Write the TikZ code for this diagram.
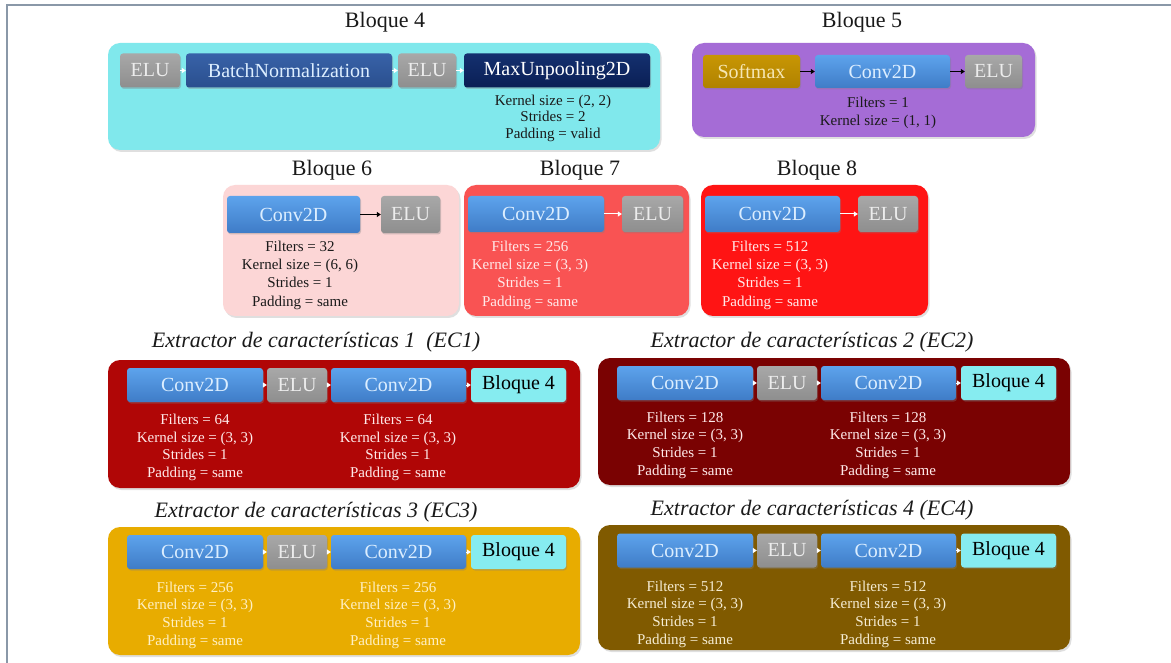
\documentclass[tikz,border=0pt]{standalone}
\usepackage{fontspec}
\setmainfont{Liberation Serif}
\usetikzlibrary{shadows,arrows.meta}

\definecolor{framec}{HTML}{8A98A8}
\definecolor{titlec}{HTML}{1A1A1A}
\definecolor{cyanp}{HTML}{80E8EC}
\definecolor{cyanbox}{HTML}{86ECF0}
\definecolor{purplep}{HTML}{A56CD6}
\definecolor{pinkp}{HTML}{FCD6D6}
\definecolor{salmonp}{HTML}{F95353}
\definecolor{redp}{HTML}{FF1414}
\definecolor{econe}{HTML}{B00606}
\definecolor{ectwo}{HTML}{7A0202}
\definecolor{ecthree}{HTML}{E8AC00}
\definecolor{ecfour}{HTML}{805A00}
\definecolor{convA}{HTML}{5DA3EC}
\definecolor{convB}{HTML}{3F7CC7}
\definecolor{convT}{HTML}{DCEEFF}
\definecolor{eluA}{HTML}{A8A8A8}
\definecolor{eluB}{HTML}{8E8E8E}
\definecolor{eluT}{HTML}{ECECEC}
\definecolor{bnA}{HTML}{3862A8}
\definecolor{bnB}{HTML}{2A4F8E}
\definecolor{muA}{HTML}{14306F}
\definecolor{muB}{HTML}{0A1F55}
\definecolor{smA}{HTML}{C89604}
\definecolor{smB}{HTML}{B08200}
\definecolor{smT}{HTML}{F6E7B4}
\definecolor{lightT}{HTML}{FFEAEA}
\definecolor{goldT}{HTML}{FFF0C4}
\definecolor{oliveT}{HTML}{F6EDD4}

\tikzset{
  blk/.style={rounded corners=3pt, inner sep=0pt, minimum height=34pt,
    font=\fontsize{20}{22}\selectfont,
    drop shadow={opacity=0.35, shadow xshift=1pt, shadow yshift=-1.5pt}},
  conv/.style={blk, top color=convA, bottom color=convB, text=convT},
  elu/.style={blk, top color=eluA, bottom color=eluB, text=eluT},
  bnorm/.style={blk, top color=bnA, bottom color=bnB, text=convT},
  unpool/.style={blk, top color=muA, bottom color=muB, text=white},
  smax/.style={blk, top color=smA, bottom color=smB, text=smT},
  minib/.style={blk, fill=cyanbox, text=black},
  panel/.style={rounded corners=12pt, inner sep=0pt,
    drop shadow={opacity=0.25, shadow xshift=1.5pt, shadow yshift=-2pt}},
  info/.style={align=center, inner sep=0pt, font=\fontsize{15}{17.7}\selectfont},
  ttl/.style={inner sep=0pt, text=titlec, font=\fontsize{22}{26}\selectfont},
  ectl/.style={inner sep=0pt, text=titlec, font=\fontsize{22}{26}\selectfont\itshape},
  warr/.style={white, line width=1pt, -{Triangle[width=5pt,length=4pt]}},
  barr/.style={black, line width=1pt, -{Triangle[width=5pt,length=4pt]}},
}

% One feature-extractor panel:
% #1 name, #2 left x, #3 top y, #4 bottom y, #5 box row y,
% #6 parameter text y, #7 panel fill, #8 text colour, #9 filters
\newcommand\ecpanel[9]{%
  \node[panel, fill=#7, minimum width=472pt, minimum height={#4-#3}]
    (#1) at ({#2+236}, {(#3+#4)/2}) {};
  \node[conv, minimum width=136pt] (#1-c1) at ({#2+87}, #5) {Conv2D};
  \node[elu,  minimum width=60pt]  (#1-e)  at ({#2+189}, #5) {ELU};
  \node[conv, minimum width=135pt] (#1-c2) at ({#2+290.5}, #5) {Conv2D};
  \node[minib, minimum width=95pt] (#1-b)  at ({#2+410.5}, #5) {Bloque 4};
  \draw[warr] (#1-c1.east) -- (#1-e.west);
  \draw[warr] (#1-e.east) -- (#1-c2.west);
  \draw[warr] (#1-c2.east) -- (#1-b.west);
  \node[info, text=#8] (#1-p1) at ({#2+87}, #6)
    {Filters = #9\\Kernel size = (3, 3)\\Strides = 1\\Padding = same};
  \node[info, text=#8] (#1-p2) at ({#2+290}, #6)
    {Filters = #9\\Kernel size = (3, 3)\\Strides = 1\\Padding = same};
}

\begin{document}
\begin{tikzpicture}[x=1pt, y=-1pt]
  \useasboundingbox (0,0) rectangle (1171,663);
  \fill[white] (0,0) rectangle (1171,663);
  \draw[framec, line width=2pt] (7,663) -- (7,5) -- (1171,5);

  % ---- Bloque 4 ----
  \node[ttl] (t4) at (385,22) {Bloque 4};
  \node[panel, fill=cyanp, minimum width=552pt, minimum height=107pt] (b4) at (384,96.5) {};
  \node[elu, minimum width=60pt] (b4e1) at (150,70.5) {ELU};
  \node[bnorm, minimum width=206pt] (b4bn) at (289,70.5) {BatchNormalization};
  \node[elu, minimum width=58pt] (b4e2) at (427,70.5) {ELU};
  \node[unpool, minimum width=186pt] (b4mu) at (557,70.5) {MaxUnpooling2D};
  \draw[warr] (b4e1.east) -- (b4bn.west);
  \draw[warr] (b4bn.east) -- (b4e2.west);
  \draw[warr] (b4e2.east) -- (b4mu.west);
  \node[info, text=titlec, font=\fontsize{15}{16.5}\selectfont] (b4p) at (553,118)
    {Kernel size = (2, 2)\\Strides = 2\\Padding = valid};

  % ---- Bloque 5 ----
  \node[ttl] (t5) at (862,22) {Bloque 5};
  \node[panel, fill=purplep, minimum width=343pt, minimum height=94pt] (b5) at (863.5,90) {};
  \node[smax, minimum width=97pt, minimum height=33pt] (b5s) at (751.5,71.5) {Softmax};
  \node[conv, minimum width=135pt, minimum height=33pt] (b5c) at (882.5,71.5) {Conv2D};
  \node[elu, minimum width=57pt, minimum height=33pt] (b5e) at (993.5,71.5) {ELU};
  \draw[barr] (b5s.east) -- (b5c.west);
  \draw[barr] (b5c.east) -- (b5e.west);
  \node[info, text=titlec, font=\fontsize{15}{18}\selectfont] (b5p) at (878,113)
    {Filters = 1\\Kernel size = (1, 1)};

  % ---- Bloque 6 ----
  \node[ttl] (t6) at (332,170) {Bloque 6};
  \node[panel, fill=pinkp, minimum width=236pt, minimum height=131pt] (b6) at (341,250.5) {};
  \node[conv, minimum width=133pt, minimum height=37pt] (b6c) at (293.5,214.5) {Conv2D};
  \node[elu, minimum width=59pt, minimum height=37pt] (b6e) at (410.5,214.5) {ELU};
  \draw[barr] (b6c.east) -- (b6e.west);
  \node[info, text=titlec, font=\fontsize{15}{18.3}\selectfont] (b6p) at (300,275)
    {Filters = 32\\Kernel size = (6, 6)\\Strides = 1\\Padding = same};

  % ---- Bloque 7 ----
  \node[ttl] (t7) at (580,170) {Bloque 7};
  \node[panel, fill=salmonp, minimum width=225pt, minimum height=131pt] (b7) at (576.5,250.5) {};
  \node[conv, minimum width=136pt, minimum height=36pt] (b7c) at (536,214) {Conv2D};
  \node[elu, minimum width=61pt, minimum height=36pt] (b7e) at (652.5,214) {ELU};
  \draw[warr] (b7c.east) -- (b7e.west);
  \node[info, text=lightT, font=\fontsize{15}{18.3}\selectfont] (b7p) at (530,275)
    {Filters = 256\\Kernel size = (3, 3)\\Strides = 1\\Padding = same};

  % ---- Bloque 8 ----
  \node[ttl] (t8) at (817,170) {Bloque 8};
  \node[panel, fill=redp, minimum width=227pt, minimum height=131pt] (b8) at (814.5,250.5) {};
  \node[conv, minimum width=135pt, minimum height=36pt] (b8c) at (772.5,214) {Conv2D};
  \node[elu, minimum width=60pt, minimum height=36pt] (b8e) at (888,214) {ELU};
  \draw[warr] (b8c.east) -- (b8e.west);
  \node[info, text=lightT, font=\fontsize{15}{18.3}\selectfont] (b8p) at (770,275)
    {Filters = 512\\Kernel size = (3, 3)\\Strides = 1\\Padding = same};

  % ---- Feature extractors ----
  \node[ectl] (tec1) at (316,342) {Extractor de características 1\ \ (EC1)};
  \ecpanel{ec1}{108}{360}{488}{385}{447.5}{econe}{lightT}{64}

  \node[ectl] (tec2) at (812,342) {Extractor de características 2 (EC2)};
  \ecpanel{ec2}{598}{358}{485}{383}{445}{ectwo}{lightT}{128}

  \node[ectl] (tec3) at (316,512) {Extractor de características 3 (EC3)};
  \ecpanel{ec3}{108}{527}{655}{552}{615}{ecthree}{goldT}{256}

  \node[ectl] (tec4) at (812,510) {Extractor de características 4 (EC4)};
  \ecpanel{ec4}{598}{525}{650}{550.5}{614}{ecfour}{oliveT}{512}
\end{tikzpicture}
\end{document}
